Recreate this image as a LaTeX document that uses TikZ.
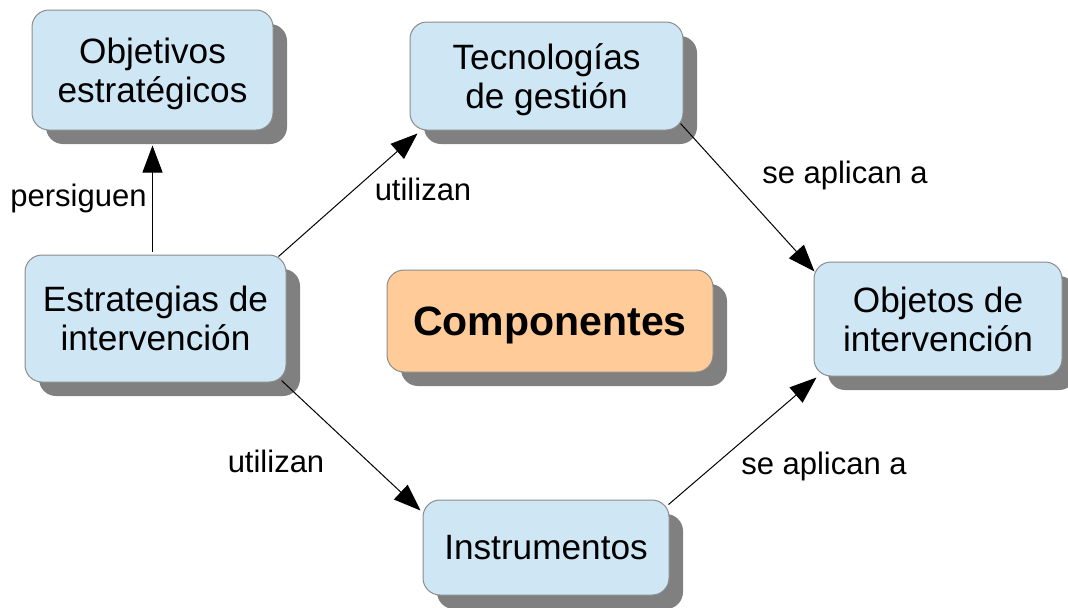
\documentclass[tikz,border=0pt]{standalone}
\usepackage{fontspec}
\setmainfont{Liberation Sans}
\usetikzlibrary{arrows.meta,shadows}
\definecolor{boxblue}{HTML}{CFE7F5}
\definecolor{boxorange}{HTML}{FFCC99}
\definecolor{shadowgray}{HTML}{808080}
\definecolor{bordergray}{HTML}{8C8C8C}

\begin{document}
\begin{tikzpicture}[x=0.5pt,y=-0.5pt]
      \useasboundingbox (0,0) rectangle (1068,607);

      \begin{scope}[every node/.style={rounded corners=8.5pt, draw=bordergray, line width=0.5pt,
          fill=boxblue, align=center, inner sep=0pt, text depth=0pt, font=\fontsize{17.6}{19.5}\selectfont,
          drop shadow={shadow xshift=7pt, shadow yshift=-7pt, fill=shadowgray, opacity=1}}]
        \node[minimum width=120.5pt, minimum height=60pt]   (objetivos)    at (152.5,70)  {Objetivos\\estratégicos};
        \node[minimum width=136.5pt, minimum height=54pt]   (tecnologias)  at (546.5,76)  {Tecnologías\\de gestión};
        \node[minimum width=130.5pt, minimum height=63.5pt] (estrategias)  at (155.5,318.5) {Estrategias de\\intervención};
        \node[minimum width=163pt, minimum height=51pt, fill=boxorange,
              font=\fontsize{20.5}{23}\selectfont\bfseries]  (componentes)  at (550,321)   {Componentes};
        \node[minimum width=124pt, minimum height=57pt]     (objetos)      at (938,319)   {Objetos de\\intervención};
        \node[minimum width=123pt, minimum height=47.5pt]   (instrumentos) at (546,547.5) {Instrumentos};
      \end{scope}

      \begin{scope}[every edge/.style={draw, line width=0.5pt, -{Triangle[length=13.5pt,width=10pt]}}]
        \path ([yshift=1.5pt]objetivos.south |- estrategias.north) edge ([yshift=-7.5pt]objetivos.south);
        \path ([xshift=-4pt,yshift=-1pt]estrategias.north east) edge ([xshift=4pt,yshift=-1.5pt]tecnologias.south west);
        \path ([xshift=-2.5pt,yshift=1pt]estrategias.south east) edge ([xshift=-1pt,yshift=-5.5pt]instrumentos.north west);
        \path ([xshift=-1.5pt,yshift=3.5pt]tecnologias.south east) edge ([xshift=0.5pt,yshift=-5pt]objetos.north west);
        \path ([xshift=-0.5pt,yshift=-2.5pt]instrumentos.north east) edge ([xshift=1.5pt,yshift=-0.5pt]objetos.south west);
      \end{scope}

      \begin{scope}[every node/.style={inner sep=0pt, font=\fontsize{15.5}{18}\selectfont}]
        \node (persiguen) at (78.5,198) {persiguen};
        \node (utilizanA) at (423,189)  {utilizan};
        \node (utilizanB) at (276,461)  {utilizan};
        \node (aplicanA)  at (845,175)  {se aplican a};
        \node (aplicanB)  at (824,466)  {se aplican a};
      \end{scope}

    \end{tikzpicture}
\end{document}
